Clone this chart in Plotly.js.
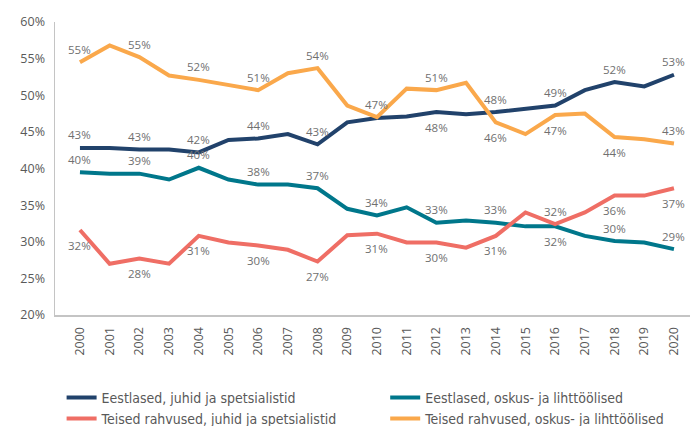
<!DOCTYPE html>
<html>
<head>
<meta charset="utf-8">
<script src="https://cdn.plot.ly/plotly-3.0.1.min.js"></script>
<style>html,body{margin:0;padding:0;background:#fff;}#chart{width:697px;height:426px;}</style>
</head>
<body>
<div id="chart"></div>
<script>
var years = [2000,2001,2002,2003,2004,2005,2006,2007,2008,2009,2010,2011,2012,2013,2014,2015,2016,2017,2018,2019,2020];
var seriesNames = [
  "Eestlased, juhid ja spetsialistid",
  "Eestlased, oskus- ja lihttöölised",
  "Teised rahvused, juhid ja spetsialistid",
  "Teised rahvused, oskus- ja lihttöölised"
];
var estJuhid   = [42.8,42.8,42.6,42.6,42.2,43.9,44.1,44.7,43.3,46.3,46.9,47.1,47.7,47.4,47.7,48.2,48.6,50.7,51.8,51.2,52.8];
var estOskus   = [39.5,39.3,39.3,38.5,40.1,38.5,37.8,37.8,37.3,34.5,33.6,34.7,32.6,32.9,32.6,32.1,32.1,30.8,30.1,29.9,29.0];
var teiJuhid   = [31.6,27.0,27.7,27.0,30.8,29.9,29.5,28.9,27.3,30.9,31.1,29.9,29.9,29.2,30.8,34.0,32.4,34.0,36.3,36.3,37.3];
var teiOskus   = [54.5,56.8,55.2,52.7,52.1,51.4,50.7,53.0,53.7,48.6,47.0,50.9,50.7,51.7,46.3,44.7,47.3,47.5,44.3,44.0,43.4];

var lblEstJuhid = ["43%","","43%","","42%","","44%","","43%","","","","48%","","48%","","49%","","52%","","53%"];
var posEstJuhid = ["a","","a","","a","","a","","a","","","","b","","a","","a","","a","","a"];
var lblEstOskus = ["40%","","39%","","40%","","38%","","37%","","34%","","33%","","33%","","32%","","30%","","29%"];
var posEstOskus = ["a","","a","","a","","a","","a","","a","","a","","a","","b","","a","","a"];
var lblTeiJuhid = ["32%","","28%","","31%","","30%","","27%","","31%","","30%","","31%","","32%","","36%","","37%"];
var posTeiJuhid = ["b","","b","","b","","b","","b","","b","","b","","b","","a","","b","","b"];
var lblTeiOskus = ["55%","","55%","","52%","","51%","","54%","","47%","","51%","","46%","","47%","","44%","","43%"];
var posTeiOskus = ["a","","a","","a","","a","","a","","a","","a","","b","","b","","b","","a"];

var colors = ["#21426B","#00778B","#EF6E65","#FAA84B"];
var values = [estJuhid, estOskus, teiJuhid, teiOskus];
var labels = [lblEstJuhid, lblEstOskus, lblTeiJuhid, lblTeiOskus];
var poss = [posEstJuhid, posEstOskus, posTeiJuhid, posTeiOskus];
var legendIds = ["legend","legend2","legend","legend2"];

var FONT = "Open Sans, Noto Sans, sans-serif";
var LFONT = "Liberation Sans Narrow, DejaVu Sans Condensed, sans-serif";
var traces = values.map(function(v,i){
  return {
    x: years, y: v, type: "scatter", mode: "lines",
    name: seriesNames[i], legend: legendIds[i],
    line: {color: colors[i], width: 4},
    hoverinfo: "skip"
  };
});

var annotations = [];
values.forEach(function(v,i){
  labels[i].forEach(function(t,j){
    if(!t) return;
    var above = poss[i][j] === "a";
    annotations.push({
      x: years[j], y: v[j], xref: "x", yref: "y",
      text: t, showarrow: false,
      yshift: above ? 13 : -15,
      font: {family: FONT, size: 11.5, color: "#707070"}
    });
  });
});

var layout = {
  width: 697, height: 426,
  margin: {l: 55, r: 7, t: 22, b: 111, autoexpand: false},
  paper_bgcolor: "#fff", plot_bgcolor: "#fff",
  showlegend: true,
  xaxis: {
    range: [1999.16, 2020.54],
    tickmode: "array", tickvals: years, ticktext: years.map(String),
    tickangle: -90, showgrid: false, zeroline: false,
    showline: true, linecolor: "#c4c4c4", linewidth: 2,
    ticks: "", ticklen: 0, ticklabelstandoff: 5,
    tickfont: {family: FONT, size: 12.5, color: "#595959"}
  },
  yaxis: {
    range: [20, 60], tickvals: [20,25,30,35,40,45,50,55,60],
    ticktext: ["20%","25%","30%","35%","40%","45%","50%","55%","60%"],
    showgrid: false, zeroline: false,
    showline: true, linecolor: "#c4c4c4", linewidth: 1.5,
    ticks: "", ticklen: 0, ticklabelstandoff: 6,
    tickfont: {family: FONT, size: 12.5, color: "#595959"}
  },
  legend: {
    x: 0.0104, xanchor: "left", y: -0.228, yanchor: "top",
    orientation: "v", bgcolor: "rgba(0,0,0,0)",
    font: {family: LFONT, size: 14, color: "#595959"},
    tracegroupgap: 0, itemwidth: 30
  },
  legend2: {
    x: 0.52, xanchor: "left", y: -0.228, yanchor: "top",
    orientation: "v", bgcolor: "rgba(0,0,0,0)",
    font: {family: LFONT, size: 14, color: "#595959"},
    tracegroupgap: 0, itemwidth: 30
  },
  annotations: annotations
};

Plotly.newPlot("chart", traces, layout, {displayModeBar: false, staticPlot: true});
</script>
</body>
</html>
